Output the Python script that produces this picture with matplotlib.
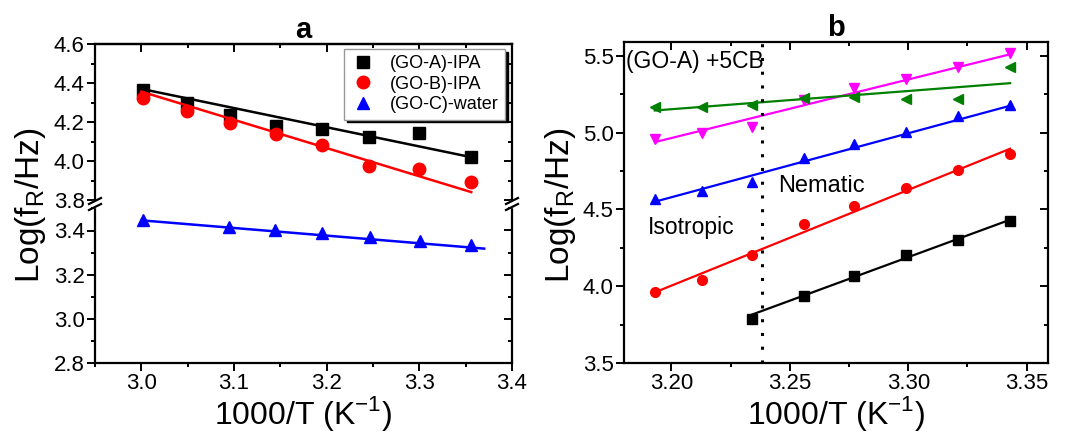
import numpy as np
import matplotlib
matplotlib.use('Agg')
import matplotlib.pyplot as plt
from matplotlib.ticker import MultipleLocator

plt.rcParams['font.family'] = ['Liberation Sans', 'DejaVu Sans']
plt.rcParams['mathtext.fontset'] = 'custom'
plt.rcParams['mathtext.rm'] = 'Liberation Sans'

# ---- panel a data ----
xa = [3.002, 3.049, 3.096, 3.145, 3.195, 3.246, 3.300, 3.356]
ya_A = [4.365, 4.300, 4.238, 4.178, 4.166, 4.123, 4.142, 4.020]
ya_B = [4.322, 4.257, 4.196, 4.138, 4.080, 3.977, 3.957, 3.891]
xa_C = [3.002, 3.095, 3.144, 3.195, 3.247, 3.301, 3.356]
ya_C = [3.448, 3.418, 3.404, 3.388, 3.370, 3.352, 3.334]
fita_A_x, fita_A_y = [3.002, 3.356], [4.368, 4.020]
fita_B_x, fita_B_y = [3.000, 3.356], [4.356, 3.841]
fita_C_x, fita_C_y = [3.000, 3.370], [3.446, 3.318]
labels_a = ['(GO-A)-IPA', '(GO-B)-IPA', '(GO-C)-water']

# ---- panel b data ----
xb = [3.193, 3.213, 3.234, 3.256, 3.277, 3.299, 3.321, 3.343]
yb_black = [3.786, 3.934, 4.064, 4.205, 4.303, 4.422]
xb_black = xb[2:]
yb_red = [3.962, 4.038, 4.200, 4.402, 4.524, 4.637, 4.758, 4.864]
yb_blue = [4.567, 4.620, 4.680, 4.834, 4.925, 5.003, 5.105, 5.180]
yb_mag = [4.958, 5.000, 5.036, 5.210, 5.290, 5.350, 5.426, 5.517]
yb_green = [5.170, 5.170, 5.180, 5.225, 5.235, 5.220, 5.220, 5.424]
fitb_black = ([3.234, 3.343], [3.815, 4.433])
fitb_red = ([3.193, 3.343], [3.960, 4.895])
fitb_blue = ([3.193, 3.343], [4.550, 5.175])
fitb_mag = ([3.193, 3.343], [4.938, 5.510])
fitb_green = ([3.193, 3.343], [5.144, 5.322])
x_transition = 3.2383

fig = plt.figure(figsize=(10.67, 4.33), dpi=100)

W, H = 1067, 433
def box(x0, y0, x1, y1):
    return [x0 / W, 1 - y1 / H, (x1 - x0) / W, (y1 - y0) / H]

ax_top = fig.add_axes(box(95, 44, 512, 204))
ax_bot = fig.add_axes(box(95, 204, 512, 363))
axb = fig.add_axes(box(624, 42, 1048, 363))

TICK_FS = 16
LABEL_FS = 23

def style(ax):
    for s in ax.spines.values():
        s.set_linewidth(1.6)
    ax.tick_params(which='both', direction='out', width=1.4, labelsize=TICK_FS, pad=2)
    ax.tick_params(which='major', length=5.5)
    ax.tick_params(which='minor', length=3)

# top ticks/right ticks pointing in
def mirror(ax, xmaj, xmin, ymaj, ymin, top=True, right=True):
    if top:
        sx = ax.secondary_xaxis('top')
        sx.xaxis.set_major_locator(MultipleLocator(xmaj))
        sx.xaxis.set_minor_locator(MultipleLocator(xmin))
        sx.tick_params(which='both', direction='in', labeltop=False, width=1.4)
        sx.tick_params(which='major', length=5.5)
        sx.tick_params(which='minor', length=3)
        sx.spines['top'].set_linewidth(1.6)
    if right:
        sy = ax.secondary_yaxis('right')
        sy.yaxis.set_major_locator(MultipleLocator(ymaj))
        sy.yaxis.set_minor_locator(MultipleLocator(ymin))
        sy.tick_params(which='both', direction='in', labelright=False, width=1.4)
        sy.tick_params(which='major', length=5.5)
        sy.tick_params(which='minor', length=3)
        sy.spines['right'].set_linewidth(1.6)

# ---- panel a ----
ms_a = 8
for ax in (ax_top, ax_bot):
    style(ax)
    ax.set_xlim(2.95, 3.4)
    ax.xaxis.set_major_locator(MultipleLocator(0.1))
    ax.xaxis.set_minor_locator(MultipleLocator(0.05))
    ax.yaxis.set_major_locator(MultipleLocator(0.2))
    ax.yaxis.set_minor_locator(MultipleLocator(0.1))

ax_top.set_ylim(3.78, 4.6)
ax_bot.set_ylim(2.8, 3.52)
ax_top.spines['bottom'].set_visible(False)
ax_bot.spines['top'].set_visible(False)
ax_top.tick_params(which='both', bottom=False, labelbottom=False)
ax_top.set_yticks([3.8, 4.0, 4.2, 4.4, 4.6])
ax_bot.set_yticks([2.8, 3.0, 3.2, 3.4])
mirror(ax_top, 0.1, 0.05, 0.2, 0.1, top=True, right=True)
mirror(ax_bot, 0.1, 0.05, 0.2, 0.1, top=False, right=True)
ax_top.spines['right'].set_visible(False)
ax_bot.spines['right'].set_visible(False)

hA, = ax_top.plot(xa, ya_A, 's', color='black', ms=ms_a, ls='none', label=labels_a[0])
hB, = ax_top.plot(xa, ya_B, 'o', color='red', ms=ms_a + 1, ls='none', label=labels_a[1])
ax_top.plot(fita_A_x, fita_A_y, '-', color='black', lw=1.8)
ax_top.plot(fita_B_x, fita_B_y, '-', color='red', lw=1.8)
hC, = ax_bot.plot(xa_C, ya_C, '^', color='blue', ms=ms_a + 1, ls='none', label=labels_a[2])
ax_bot.plot(fita_C_x, fita_C_y, '-', color='blue', lw=1.8)

# break marks
for xf in (95 / W, 512 / W):
    yf = 1 - 204 / H
    dx, dy = 6 / W, 3 / H
    fig.patches.append(plt.Rectangle((xf - 3 / W, yf - 3 / H), 6 / W, 6 / H,
                                     transform=fig.transFigure, color='white', zorder=5))
    for off in (-3, 3):
        fig.lines.append(plt.Line2D([xf - dx, xf + dx], [yf + off / H - dy, yf + off / H + dy],
                                    transform=fig.transFigure, color='black', lw=1.6, zorder=6))

leg = ax_top.legend(handles=[hA, hB, hC], loc='upper right', bbox_to_anchor=(0.983, 0.97),
                    fontsize=13, frameon=True, fancybox=False, edgecolor='#999999',
                    shadow={'color': 'black', 'alpha': 1}, handletextpad=0.8,
                    borderpad=0.35, labelspacing=0.2, handlelength=1.4, borderaxespad=0)
leg.get_frame().set_linewidth(1.0)

ax_top.set_title('a', fontsize=21, fontweight='bold', pad=3)
ax_bot.set_xlabel('1000/T (K$^{\\mathregular{-1}}$)', fontsize=LABEL_FS, labelpad=0)
fig.text(30 / W, 1 - 205 / H, 'Log(f$_{\\mathregular{R}}$/Hz)', rotation=90,
         fontsize=24, ha='center', va='center')

# ---- panel b ----
ms_b = 6.5
style(axb)
axb.set_xlim(3.18, 3.359)
axb.set_ylim(3.5, 5.59)
axb.xaxis.set_major_locator(MultipleLocator(0.05))
axb.xaxis.set_minor_locator(MultipleLocator(0.025))
axb.yaxis.set_major_locator(MultipleLocator(0.5))
axb.yaxis.set_minor_locator(MultipleLocator(0.25))
axb.xaxis.set_major_formatter(plt.FormatStrFormatter('%.2f'))
axb.yaxis.set_major_formatter(plt.FormatStrFormatter('%.1f'))
mirror(axb, 0.05, 0.025, 0.5, 0.25)
axb.spines['top'].set_visible(False)
axb.spines['right'].set_visible(False)

axb.plot(xb_black, yb_black, 's', color='black', ms=ms_b)
axb.plot(*fitb_black, '-', color='black', lw=1.6)
axb.plot(xb, yb_red, 'o', color='red', ms=ms_b + 0.5)
axb.plot(*fitb_red, '-', color='red', lw=1.6)
axb.plot(xb, yb_blue, '^', color='blue', ms=ms_b + 0.5)
axb.plot(*fitb_blue, '-', color='blue', lw=1.6)
axb.plot(xb, yb_mag, 'v', color='magenta', ms=ms_b + 0.5)
axb.plot(*fitb_mag, '-', color='magenta', lw=1.6)
axb.plot(xb, yb_green, '<', color='green', ms=ms_b + 0.5)
axb.plot(*fitb_green, '-', color='green', lw=1.6)
axb.axvline(x_transition, color='black', lw=2.2, ls=(0, (1, 3.5)))

axb.text(3.1808, 5.46, '(GO-A) +5CB', fontsize=16.5, ha='left', va='center')
axb.text(3.245, 4.65, 'Nematic', fontsize=17, ha='left', va='center')
axb.text(3.190, 4.38, 'Isotropic', fontsize=16.5, ha='left', va='center')

axb.set_title('b', fontsize=21, fontweight='bold', pad=3)
axb.set_xlabel('1000/T (K$^{\\mathregular{-1}}$)', fontsize=LABEL_FS, labelpad=0)
fig.text(560 / W, 1 - 205 / H, 'Log(f$_{\\mathregular{R}}$/Hz)', rotation=90,
         fontsize=24, ha='center', va='center')

fig.savefig('out.png', dpi=100)
